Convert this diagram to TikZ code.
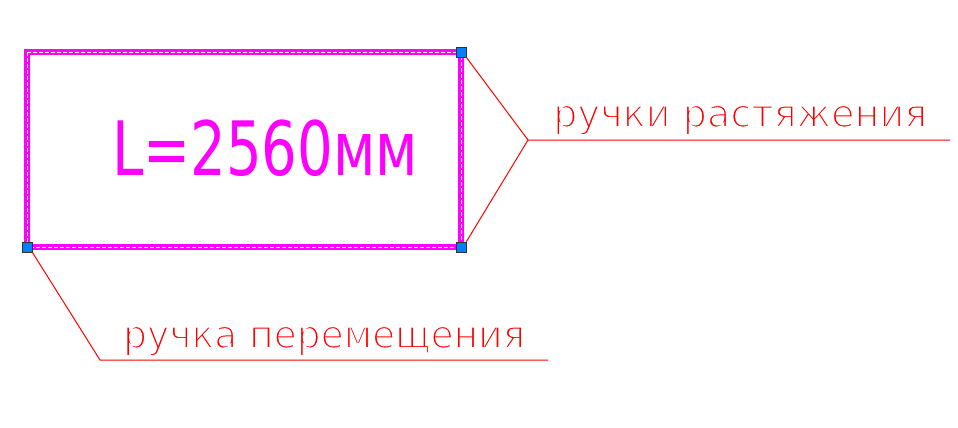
\documentclass[tikz,border=0pt]{standalone}
\usepackage{fontspec}
\usepackage{graphicx}
\setmainfont{DejaVu Sans}
\definecolor{cadmag}{RGB}{255,0,255}
\definecolor{cadred}{RGB}{255,0,0}
\definecolor{gripblue}{RGB}{0,128,255}
% thin the strokes of a text: white outline drawn over the glyphs
\newcommand\thinned[2]{\special{pdf:code 1 1 1 RG 2 Tr #1 w}#2\special{pdf:code 0 Tr}}
\tikzset{
  frame/.style={cadmag, line width=6.5pt, line cap=rect,
    postaction={draw=white, line width=0.9pt, line cap=butt, dash pattern=on 4pt off 2pt}},
  grip/.style={draw=black!80, fill=gripblue, line width=0.8pt, minimum size=10pt,
    inner sep=0pt, rectangle},
  leader/.style={cadred, line width=1pt},
  tag/.style={cadred, inner sep=0pt, anchor=base west}
}
\begin{document}
\begin{tikzpicture}[x=1pt,y=-1pt]
  \useasboundingbox (0,0) rectangle (958,428);

  \draw[frame] (27,52) rectangle (461,247);

  \node[cadmag, inner sep=0pt, anchor=base west] (len) at (112,175)
    {\resizebox{306pt}{\height}{\fontsize{75pt}{75pt}\selectfont L=2560мм}};

  % grips
  \node[grip] (gripTR) at (461,52) {};
  \node[grip] (gripBR) at (461,247) {};
  \node[grip] (gripBL) at (27,247) {};

  \coordinate (fork) at (528,140);
  \coordinate (endR) at (950,140);
  \coordinate (bend) at (100,360);
  \coordinate (endL) at (548,360);

  \draw[leader] (gripTR.south east) -- (fork) -- (endR);
  \draw[leader] (gripBR.north east) -- (fork);
  \draw[leader] (gripBL.south east) -- (bend) -- (endL);

  \node[tag] (stretch) at (553,127)
    {\resizebox{374pt}{\height}{\fontsize{39pt}{39pt}\selectfont\thinned{1.8}{ручки растяжения}}};
  \node[tag] (move) at (123,348)
    {\resizebox{402pt}{\height}{\fontsize{39pt}{39pt}\selectfont\thinned{1.8}{ручка перемещения}}};

\end{tikzpicture}
\end{document}
